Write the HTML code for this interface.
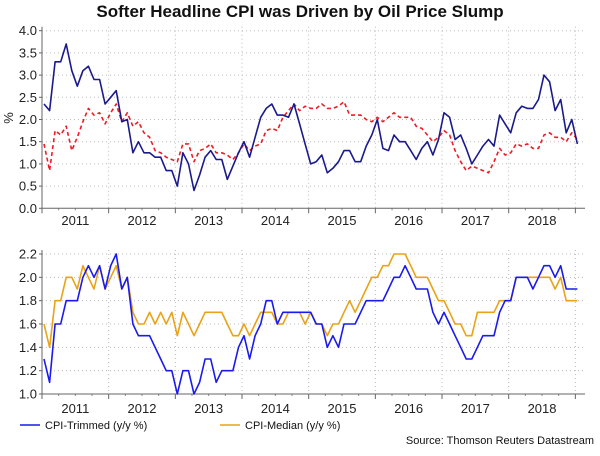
<!DOCTYPE html>
<html><head><meta charset="utf-8"><style>
body{margin:0;background:#fff;width:600px;height:451px;overflow:hidden;font-family:"Liberation Sans",sans-serif}
svg text{font-family:"Liberation Sans",sans-serif}
</style></head><body>
<svg id="c" width="600" height="451" viewBox="0 0 600 451">
<text x="300" y="17" text-anchor="middle" font-size="17" font-weight="bold" fill="#111">Softer Headline CPI was Driven by Oil Price Slump</text>
<g id="top"></g>
<g id="bot"></g>
<g>
<line x1="20" y1="425" x2="40" y2="425" stroke="#1a1aee" stroke-width="1.5"/>
<text x="45" y="429" font-size="11" fill="#111">CPI-Trimmed (y/y %)</text>
<line x1="220" y1="425" x2="240" y2="425" stroke="#e8a317" stroke-width="1.5"/>
<text x="245" y="429" font-size="11" fill="#111">CPI-Median (y/y %)</text>
</g>
<text x="594" y="444" text-anchor="end" font-size="11" fill="#111">Source: Thomson Reuters Datastream</text>
</svg>
<script>
const years = ["2011","2012","2013","2014","2015","2016","2017","2018"];
const topTicks = [0,0.5,1,1.5,2,2.5,3,3.5,4];
const botTicks = [1.0,1.2,1.4,1.6,1.8,2.0,2.2];
const topTrimmed = [2.35,2.2,3.3,3.3,3.7,3.1,2.75,3.1,3.2,2.9,2.9,2.35,2.5,2.65,1.95,2.0,1.25,1.5,1.25,1.25,1.15,1.15,0.85,0.85,0.5,1.25,1.0,0.4,0.75,1.15,1.3,1.1,1.1,0.65,0.95,1.25,1.5,1.15,1.6,2.05,2.25,2.35,2.1,2.1,2.05,2.35,1.9,1.45,
1.0,1.05,1.2,0.8,0.9,1.05,1.3,1.3,1.05,1.05,1.4,1.65,2.0,1.35,1.3,1.65,1.5,1.5,1.3,1.1,1.35,1.5,1.2,1.55,2.15,2.05,1.55,1.65,1.35,1.0,1.2,1.4,1.55,1.4,2.1,1.9,1.7,2.15,2.3,2.25,2.25,2.45,3.0,2.85,2.2,2.45,1.7,2.0,1.45];
const topMedian = [1.45,0.85,1.75,1.65,1.85,1.3,1.6,1.95,2.25,2.1,2.15,1.9,2.15,2.35,1.95,2.15,1.85,1.95,1.7,1.6,1.3,1.25,1.15,1.1,1.05,1.45,1.45,1.05,1.3,1.35,1.45,1.25,1.25,1.2,1.1,1.25,1.45,1.3,1.4,1.45,1.75,1.8,1.75,2.05,2.2,2.35,2.2,2.3,
2.25,2.25,2.35,2.25,2.25,2.3,2.4,2.1,2.1,2.1,2.0,1.95,2.05,1.95,2.05,2.15,2.05,2.05,2.05,1.85,1.8,1.65,1.5,1.6,1.75,1.65,1.3,1.05,0.85,0.95,0.9,0.85,0.8,1.05,1.35,1.2,1.25,1.45,1.4,1.45,1.35,1.35,1.65,1.7,1.6,1.6,1.5,1.7,1.55];
const botTrimmed = [1.3,1.1,1.6,1.6,1.8,1.8,1.8,2.0,2.1,2.0,2.1,1.9,2.1,2.2,1.9,2.0,1.6,1.5,1.5,1.5,1.4,1.3,1.2,1.2,1.0,1.2,1.2,1.0,1.1,1.3,1.3,1.1,1.2,1.2,1.2,1.4,1.5,1.3,1.5,1.6,1.8,1.8,1.6,1.7,1.7,1.7,1.7,1.7,
1.7,1.6,1.6,1.4,1.5,1.4,1.6,1.6,1.6,1.7,1.8,1.8,1.8,1.8,1.9,2.0,2.0,2.1,2.0,1.9,1.9,1.9,1.7,1.6,1.7,1.6,1.5,1.4,1.3,1.3,1.4,1.5,1.5,1.5,1.7,1.8,1.8,2.0,2.0,2.0,1.9,2.0,2.1,2.1,2.0,2.1,1.9,1.9,1.9];
const botMedian = [1.6,1.4,1.8,1.8,2.0,2.0,1.9,2.1,2.0,1.9,2.1,1.9,2.0,2.1,1.9,2.0,1.7,1.6,1.6,1.7,1.6,1.7,1.6,1.7,1.5,1.7,1.6,1.5,1.6,1.7,1.7,1.7,1.7,1.6,1.5,1.5,1.6,1.5,1.6,1.7,1.7,1.7,1.6,1.6,1.7,1.7,1.7,1.6,
1.7,1.6,1.6,1.5,1.6,1.6,1.7,1.8,1.7,1.8,1.9,2.0,2.0,2.1,2.1,2.2,2.2,2.2,2.1,2.0,2.0,2.0,1.9,1.8,1.8,1.7,1.6,1.6,1.5,1.5,1.7,1.7,1.7,1.7,1.8,1.8,1.8,2.0,2.0,2.0,2.0,2.0,2.0,2.0,1.9,2.0,1.8,1.8,1.8];

const NS="http://www.w3.org/2000/svg";
const X0=42, X1=585, yearW=66.67, monthW=yearW/12, firstX=44;
const xOf = i => firstX + i*monthW;
function mk(tag, attrs, parent){const e=document.createElementNS(NS,tag);for(const k in attrs)e.setAttribute(k,attrs[k]);parent.appendChild(e);return e;}

function panel(g, yTop, yBot, vmin, vmax, ticks, fmt, labelY, series){
  const yOf = v => yBot - (v - vmin)/(vmax - vmin)*(yBot - yTop);
  ticks.forEach(t=>{
    const y=yOf(t);
    if(t!==vmin){const l=mk('line',{x1:X0,x2:X1,y1:y,y2:y,stroke:'#bbb','stroke-dasharray':'1,3'},g);
    
    }
    const tk=mk('line',{x1:X0-3,x2:X0,y1:y,y2:y,stroke:'#666'},g);
    
    
    const tx=mk('text',{x:X0-5,y:y+4.5,'text-anchor':'end','font-size':13,fill:'#222'},g);
    tx.textContent=fmt(t);
    
    
  });
  for(let k=0;k<=8;k++){
    const x=X0+k*yearW;
    if(k>0){const l=mk('line',{x1:x,x2:x,y1:yTop-4,y2:yBot,stroke:'#bbb','stroke-dasharray':'1,3'},g);
    
    }
    const tk=mk('line',{x1:x,x2:x,y1:yBot,y2:yBot+5,stroke:'#666'},g);
    
    
    for(let q=1;q<4&&k<8;q++){const m=mk('line',{x1:x+q*yearW/4,x2:x+q*yearW/4,y1:yBot,y2:yBot+2,stroke:'#888'},g);
    
    }
  }
  years.forEach((yr,k)=>{
    const t=mk('text',{x:X0+k*yearW+yearW/2,y:labelY,'text-anchor':'middle','font-size':13,fill:'#222'},g);
    t.textContent=yr;
    
    
  });
  const ax=mk('path',{d:`M${X0},${yTop-4}V${yBot}H${X1}`,fill:'none',stroke:'#666'},g);
  
  
  series.forEach(s=>{
    const d=s.data.map((v,i)=>(i?'L':'M')+xOf(i).toFixed(1)+','+yOf(v).toFixed(1)).join('');
    const p=mk('path',{d,fill:'none',stroke:s.color,'stroke-width':1.6,'stroke-linejoin':'round'},g);
    if(s.dash)p.setAttribute('stroke-dasharray',s.dash);
    
    
  });
}
panel(document.getElementById('top'),30.7,208.3,0,4,topTicks,t=>t.toFixed(1),225,[
  {data:topMedian,color:'#ee1c25',dash:'4,3',name:'cpi-median-line-top'},
  {data:topTrimmed,color:'#1a1a8c',name:'cpi-trimmed-line-top'}]);
panel(document.getElementById('bot'),254,394,1.0,2.2,botTicks,t=>t.toFixed(1),413,[
  {data:botMedian,color:'#e8a317',name:'cpi-median-line-bottom'},
  {data:botTrimmed,color:'#1a1aee',name:'cpi-trimmed-line-bottom'}]);
const pc=mk('text',{x:13,y:118,'text-anchor':'middle','font-size':13,fill:'#222',transform:'rotate(-90 13 118)'},document.getElementById('top'));
pc.textContent='%';


</script>
</body></html>
